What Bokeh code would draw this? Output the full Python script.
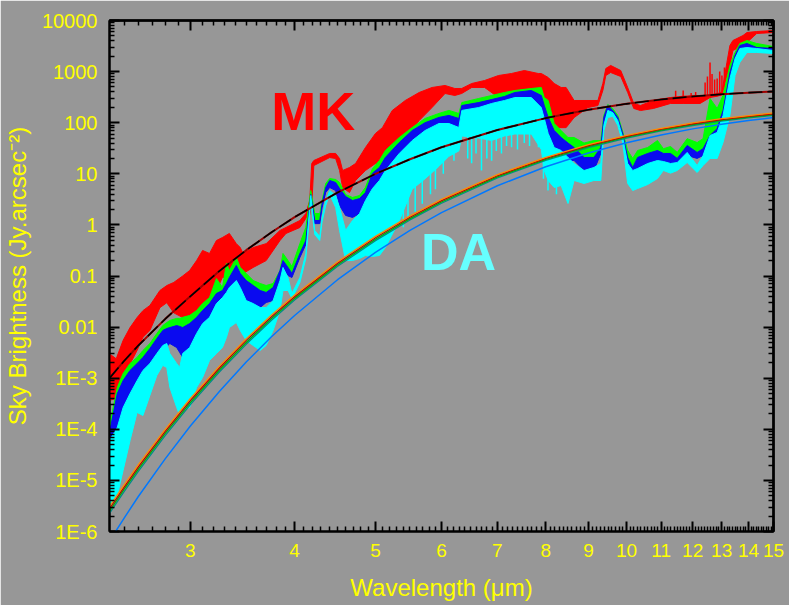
from bokeh.plotting import figure
from bokeh.models import LogAxis, FixedTicker, Range1d, Label
from bokeh.embed import file_html
from bokeh.resources import INLINE

# ---------------- data ----------------
# MK sky spectrum (red): wavelength (um), upper and lower envelope (Jy/arcsec^2)
red_wl = [2.40, 2.445, 2.492, 2.540, 2.590, 2.632, 2.683, 2.758, 2.811, 2.866, 2.937, 2.994, 3.052, 3.103,
          3.163, 3.224, 3.278, 3.341, 3.406, 3.443, 3.47, 3.568, 3.698, 3.842, 3.906, 4.059, 4.126, 4.171,
          4.194, 4.218, 4.407, 4.480, 4.529, 4.567, 4.655, 4.733, 4.864, 5.0, 5.097, 5.237, 5.429, 5.641,
          5.845, 6.059, 6.225, 6.344, 6.522, 6.758, 7.023, 7.279, 7.542, 7.837, 7.902, 8.055, 8.189, 8.347,
          8.462, 8.652, 8.989, 9.239, 9.366, 9.443, 9.57, 9.84, 10.03, 10.20, 10.39, 10.77, 11.29, 11.69,
          12.25, 12.42, 12.59, 12.84, 13.01, 13.19, 13.30, 13.41, 13.56, 13.79, 13.94, 14.32, 15.0]
red_hi = [3.0e-3, 2.4e-3, 5.5e-3, 9.8e-3, 0.0154, 0.021, 0.0265, 0.052, 0.065, 0.075, 0.10, 0.128, 0.20, 0.316,
          0.276, 0.495, 0.567, 0.68, 0.43, 0.36, 0.276, 0.36, 0.43, 0.78, 0.89, 1.22, 1.67, 3.0,
          15.9, 18.2, 25, 25, 19.9, 11.6, 13.3, 15.9, 32.7, 61.5, 80, 173, 272, 390,
          489, 535, 467, 467, 585, 670, 839, 918, 1050, 918, 918, 767, 585, 489,
          489, 272, 272, 272, 585, 1150, 1320, 1050, 489, 238, 217, 272, 311, 330,
          341, 330, 350, 370, 400, 1510, 3240, 4060, 4440, 5090, 5820, 6090, 6370]
red_lo = [3.7e-4, 4.0e-4, 9.0e-4, 1.9e-3, 3.5e-3, 6.3e-3, 8.6e-3, 0.024, 0.030, 0.019, 0.0154, 0.0154, 0.0185, 0.019,
          0.024, 0.052, 0.094, 0.094, 0.128, 0.128, 0.112, 0.147, 0.20, 0.495, 0.68, 0.89, 1.33, 1.6,
          2.4, 14.5, 20.8, 19.9, 11.6, 5.4, 4.3, 7.4, 11.6, 15.9, 11.6, 20.8, 51, 110,
          198, 373, 341, 373, 489, 489, 311, 272, 311, 198, 126, 126, 80, 80,
          80, 126, 198, 217, 427, 839, 960, 802, 390, 190, 173, 190, 238, 238,
          238, 272, 311, 330, 350, 839, 1320, 2590, 2830, 2830, 3710, 5570, 5820]
# narrow emission spikes of the MK spectrum: wavelength, peak, base
red_spike_wl = [11.45, 11.69, 11.95, 12.10, 12.42, 12.50, 12.59, 12.66, 12.75, 12.84, 12.93, 13.01, 13.10]
red_spike_top = [420, 427, 380, 400, 612, 800, 1510, 900, 700, 733, 1000, 839, 1200]
red_spike_bot = [250, 250, 250, 250, 300, 300, 300, 320, 320, 330, 340, 350, 380]

# Other sky spectra (green, blue, cyan) on a common wavelength grid
wl = [2.400, 2.452, 2.492, 2.540, 2.590, 2.632, 2.683, 2.735, 2.780, 2.811, 2.835, 2.889, 2.913, 2.937, 2.994,
      3.052, 3.103, 3.163, 3.224, 3.278, 3.314, 3.341, 3.406, 3.443, 3.500, 3.568, 3.638, 3.698, 3.770, 3.842,
      3.874, 3.928, 3.971, 4.059, 4.126, 4.183, 4.229, 4.288, 4.316, 4.359, 4.407, 4.480, 4.529, 4.605, 4.694,
      4.785, 4.864, 4.959, 5.055, 5.139, 5.340, 5.534, 5.734, 5.958, 6.124, 6.294, 6.346, 6.649, 6.890, 7.139,
      7.346, 7.689, 7.902, 7.968, 8.055, 8.189, 8.347, 8.507, 8.652, 8.892, 9.138, 9.314, 9.391, 9.495, 9.626,
      9.760, 9.893, 10.03, 10.17, 10.31, 10.60, 10.89, 11.07, 11.29, 11.50, 11.82, 12.15, 12.35, 12.59, 12.84,
      13.05, 13.30, 13.49, 13.67, 13.94, 14.32, 15.0]
green_hi = [1.18e-4, 6.6e-4, 1.24e-3, 1.94e-3, 2.55e-3, 3.49e-3, 4.77e-3, 7.5e-3, 0.0107, 0.0123, 0.0135, 0.0148,
            0.0148, 0.0155, 0.0169, 0.0211, 0.0289, 0.0379, 0.0894, 0.0596, 0.176, 0.128, 0.230, 0.147, 0.112,
            0.0816, 0.0713, 0.0652, 0.0713, 0.128, 0.276, 0.201, 0.154, 0.432, 0.889, 4.7, 1.67, 1.67, 3.0, 6.46,
            8.09, 7.74, 6.76, 3.93, 3.44, 3.76, 5.39, 12.7, 18.2, 28.6, 51.3, 80.5, 121, 152, 174, 152, 248, 298,
            341, 390, 427, 467, 489, 311, 272, 96.5, 70.3, 51.3, 51.3, 40.0, 44.8, 44.8, 139, 227, 190, 139, 67.3,
            28.6, 20.0, 28.6, 32.7, 44.8, 31.0, 34.2, 26.2, 48.7, 40.9, 48.7, 298, 190, 341, 1320, 2370, 3550,
            4060, 3550, 3100]
blue_hi = [8.7e-5, 5.0e-4, 9.0e-4, 1.42e-3, 1.94e-3, 2.55e-3, 3.81e-3, 5.98e-3, 8.58e-3, 9.39e-3, 9.8e-3, 0.0107,
           0.0103, 9.8e-3, 0.0117, 0.0155, 0.0211, 0.0289, 0.0455, 0.052, 0.0713, 0.0935, 0.161, 0.112, 0.0816,
           0.0652, 0.052, 0.0476, 0.0596, 0.128, 0.201, 0.147, 0.112, 0.276, 0.495, 3.93, 1.22, 1.22, 2.62, 5.39,
           7.4, 6.76, 5.15, 3.6, 3.0, 3.27, 4.3, 10.3, 13.3, 20.9, 40.9, 70.3, 100, 127, 139, 121, 217, 248,
           284, 326, 390, 427, 341, 217, 127, 70.3, 51.3, 40.0, 32.7, 20.9, 20.9, 32.7, 127, 217, 174, 127, 61.5,
           20.9, 13.3, 20.9, 25.0, 28.6, 25.0, 25.0, 20.0, 35.8, 26.2, 31.0, 56.2, 77.1, 174, 960, 2070, 3240,
           3550, 2960, 2830]
blue_lo = [1.14e-5, 8.3e-5, 1.70e-4, 2.67e-4, 5.0e-4, 7.87e-4, 1.24e-3, 2.22e-3, 3.49e-3, 4.16e-3, 4.77e-3, 3.98e-3,
           3.18e-3, 2.55e-3, 3.04e-3, 3.04e-3, 3.98e-3, 4.77e-3, 8.58e-3, 9.8e-3, 0.0135, 0.0185, 0.0379, 0.0211,
           0.0185, 0.0211, 0.0242, 0.0303, 0.0331, 0.0596, 0.128, 0.102, 0.0935, 0.230, 0.413, 3.0, 1.06, 1.06,
           2.19, 4.3, 5.39, 4.7, 2.39, 1.53, 1.40, 1.67, 1.06, 0.973, 1.22, 1.67, 5.39, 13.3, 32.7, 61.5, 70.3,
           44.8, 110, 127, 158, 181, 198, 198, 121, 88.2, 51.3, 20.9, 14.5, 18.2, 18.2, 11.6, 11.6, 25.0, 100,
           174, 139, 100, 48.7, 16.6, 10.6, 11.6, 13.3, 15.9, 15.9, 14.5, 15.9, 22.8, 20.0, 22.8, 31.0, 40.9,
           77.1, 390, 1320, 2370, 2830, 2590, 2370]
cyan_hi = [6.0e-5, 1.09e-4, 2.67e-4, 5.0e-4, 9.0e-4, 1.42e-3, 1.94e-3, 3.04e-3, 4.36e-3, 4.77e-3, 3.04e-3, 1.94e-3,
           1.62e-3, 3.04e-3, 3.98e-3, 7.5e-3, 0.0117, 0.0155, 0.0289, 0.0379, 0.0476, 0.0596, 0.0816, 0.0596,
           0.0331, 0.0289, 0.0242, 0.0242, 0.0331, 0.0816, 0.147, 0.0935, 0.0455, 0.0935, 0.276, 3.76, 0.777,
           0.594, 1.40, 3.0, 4.7, 3.76, 2.19, 0.777, 1.22, 1.67, 3.0, 5.15, 7.4, 11.6, 25.0, 44.8, 70.3, 96.5,
           96.5, 80.5, 174, 198, 238, 272, 311, 311, 198, 121, 61.5, 32.7, 28.6, 20.9, 15.9, 11.6, 13.3, 15.9,
           88.2, 174, 158, 110, 51.3, 15.9, 11.6, 12.7, 15.9, 18.2, 17.4, 15.9, 16.6, 26.2, 14.5, 22.8, 56.2,
           64.4, 139, 733, 1800, 2830, 2960, 2830, 2590]
cyan_lo = [2.95e-6, 5.07e-6, 1.57e-5, 6.0e-5, 2.14e-4, 1.86e-4, 4.59e-4, 1.13e-3, 1.78e-3, 1.62e-3, 6.58e-4, 2.67e-4,
           1.86e-4, 2.33e-4, 2.67e-4, 6.58e-4, 1.03e-3, 2.22e-3, 3.04e-3, 3.98e-3, 6.25e-3, 9.8e-3, 0.0123,
           8.58e-3, 5.47e-3, 4.36e-3, 3.49e-3, 4.36e-3, 8.58e-3, 0.0211, 0.052, 0.052, 0.0363, 0.0746, 0.220,
           3.0, 0.649, 0.495, 1.16, 2.39, 3.93, 2.19, 0.777, 0.201, 0.201, 0.220, 0.252, 0.241, 0.252, 0.361,
           1.2, 5.0, 8.0, 14.0, 22.0, 28.0, 55.0, 50.0, 45.0, 55.0, 60.0, 60.0, 30.0, 11.6, 7.4, 5.39, 5.9,
           2.62, 7.4, 6.46, 7.4, 7.4, 70.3, 127, 133, 88.2, 40.9, 6.46, 4.7, 5.15, 6.17, 8.09, 11.6, 10.3, 11.6,
           16.6, 10.6, 14.5, 20.0, 20.0, 40.9, 139, 839, 1510, 2370, 2370, 2260]
# deep, narrow absorption lines of the cyan spectrum: wavelength, top, bottom
cyan_spike_wl = [5.40, 5.47, 5.58, 5.69, 5.82, 5.90, 6.03, 6.21, 6.45, 6.52, 6.60, 6.70, 6.80, 6.89, 6.98,
                 7.08, 7.18, 7.28, 7.40, 7.54, 7.65, 7.84, 7.95, 8.05, 8.24]
cyan_spike_top = [20, 25, 35, 40, 50, 60, 70, 80, 150, 150, 160, 170, 180, 190, 200,
                  210, 220, 230, 240, 250, 250, 200, 100, 60, 30]
cyan_spike_bot = [0.9, 1.4, 1.8, 2.6, 4.0, 5.0, 10, 18, 20, 16, 25, 11.6, 20, 18, 28,
                  25, 35, 33, 30, 40, 35, 33, 8, 4.7, 4.0]

# Smooth thermal-emission curves
curve_wl = [2.4, 2.5, 2.6, 2.8, 3.0, 3.25, 3.5, 3.75, 4.0, 4.5, 5.0, 5.5, 6.0, 7.0, 8.0, 9.0, 10, 11, 12, 13, 14, 15]
mk_thermal = [1.0e-3, 2.2e-3, 4.4e-3, 0.0145, 0.040, 0.125, 0.32, 0.71, 1.42, 4.27, 9.95, 19.3, 33, 72, 123, 179,
              234, 284, 326, 360, 387, 407]
da_thermal_1 = [3.10e-6, 8.3e-6, 2.05e-5, 1.01e-4, 4.0e-4, 1.72e-3, 5.9e-3, 0.0170, 0.0425, 0.188, 0.597, 1.50,
                3.16, 9.64, 21.0, 37.2, 56.6, 77.8, 99.1, 120, 138, 155]
da_thermal_2 = [2.79e-6, 7.5e-6, 1.86e-5, 9.2e-5, 3.66e-4, 1.58e-3, 5.5e-3, 0.0157, 0.0394, 0.175, 0.560, 1.41,
                2.98, 9.16, 20.1, 35.6, 54.3, 74.8, 95.3, 115, 133, 149]
da_thermal_3 = [2.52e-6, 6.8e-6, 1.68e-5, 8.4e-5, 3.33e-4, 1.45e-3, 5.0e-3, 0.0146, 0.0365, 0.164, 0.525, 1.33,
                2.81, 8.71, 19.2, 34.0, 52.1, 71.9, 91.6, 111, 129, 144]
da_thermal_4 = [2.27e-6, 6.1e-6, 1.52e-5, 7.6e-5, 3.04e-4, 1.32e-3, 4.6e-3, 0.0135, 0.0338, 0.153, 0.492, 1.25,
                2.65, 8.28, 18.3, 32.6, 50.0, 69.2, 88.1, 107, 124, 139]
da_thermal_5 = [6.5e-7, 1.85e-6, 4.9e-6, 2.67e-5, 1.16e-4, 5.5e-4, 2.07e-3, 6.4e-3, 0.0169, 0.0836, 0.29, 0.78,
                1.74, 5.83, 13.7, 25.5, 40.5, 57.7, 75.7, 93.5, 110.5, 126]

# Axis ticks
x_tick_values = [3, 4, 5, 6, 7, 8, 9, 10, 11, 12, 13, 14, 15]
x_tick_labels = ["3", "4", "5", "6", "7", "8", "9", "10", "11", "12", "13", "14", "15"]
y_tick_values = [1e-6, 1e-5, 1e-4, 1e-3, 0.01, 0.1, 1, 10, 100, 1000, 10000]
y_tick_labels = ["1E-6", "1E-5", "1E-4", "1E-3", "0.01", "0.1", "1", "10", "100", "1000", "10000"]

# ---------------- styling ----------------
GRAY = "#979797"
YELLOW = "#FFFF00"
FONT = "Liberation Sans"

x_minor = [round(2.4 + 0.1 * i, 1) for i in range(1, 126)]
x_minor = [v for v in x_minor if abs(v - round(v)) > 1e-6 and v < 15]
y_minor = [m * 10.0 ** e for e in range(-6, 4) for m in range(2, 10)]

p = figure(width=789, height=605, x_axis_type="log", y_axis_type="log",
           x_range=Range1d(2.4, 15), y_range=Range1d(1e-6, 1e4),
           output_backend="svg", toolbar_location=None,
           min_border_left=106, min_border_right=16, min_border_top=20, min_border_bottom=74,
           background_fill_color=GRAY, border_fill_color=GRAY)
p.grid.visible = False
p.outline_line_color = "black"
p.outline_line_width = 2

xb = p.below[0]
yl = p.left[0]
xb.ticker = FixedTicker(ticks=x_tick_values, minor_ticks=x_minor)
yl.ticker = FixedTicker(ticks=y_tick_values, minor_ticks=y_minor)
xb.major_label_overrides = dict(zip(x_tick_values, x_tick_labels))
yl.major_label_overrides = dict(zip(y_tick_values, y_tick_labels))

# mirrored tick marks (no labels) on the top and right edges
for side, major_pos, minor_pos in (("above", x_tick_values, x_minor), ("right", y_tick_values, y_minor)):
    for pos, length in ((major_pos, 10), (minor_pos, 5)):
        ax = LogAxis(ticker=FixedTicker(ticks=[], minor_ticks=pos), major_label_standoff=0,
                     minor_tick_in=length, minor_tick_out=0, major_tick_in=0, major_tick_out=0,
                     axis_line_color="black", axis_line_width=2,
                     minor_tick_line_color="black",
                     minor_tick_line_width=2 if length == 10 else 1.5)
        p.add_layout(ax, side)

for ax in (xb, yl):
    ax.axis_line_color = "black"
    ax.axis_line_width = 2
    ax.major_tick_line_color = "black"
    ax.minor_tick_line_color = "black"
    ax.major_tick_line_width = 2
    ax.minor_tick_line_width = 1.5
    ax.major_tick_in = 10
    ax.major_tick_out = 0
    ax.minor_tick_in = 5
    ax.minor_tick_out = 0
    ax.major_label_text_color = YELLOW
    ax.major_label_text_font = FONT

xb.major_label_text_font_size = "19px"
yl.major_label_text_font_size = "20px"
xb.major_label_standoff = 12
yl.major_label_standoff = 12
xb.axis_label = "Wavelength (\u03bcm)"
yl.axis_label = "Sky Brightness (Jy.arcsec\u207b\u00b2)"
for ax in (xb, yl):
    ax.axis_label_text_color = YELLOW
    ax.axis_label_text_font = FONT
    ax.axis_label_text_font_size = "24px"
    ax.axis_label_text_font_style = "normal"
xb.axis_label_standoff = 14
yl.axis_label_standoff = 8

# ---------------- spectra ----------------
RED = "#FF0000"
GREEN = "#00FF00"
BLUE = "#0A0AF0"
CYAN = "#00FFFF"

p.varea(x=red_wl, y1=red_lo, y2=red_hi, fill_color=RED)
p.line(red_wl, red_hi, line_color=RED, line_width=1)
p.line(red_wl, red_lo, line_color=RED, line_width=1)
p.segment(x0=red_spike_wl, y0=red_spike_bot, x1=red_spike_wl, y1=red_spike_top, line_color=RED, line_width=1.5)

p.varea(x=wl, y1=blue_lo, y2=green_hi, fill_color=GREEN)
p.line(wl, green_hi, line_color=GREEN, line_width=1)

p.varea(x=wl, y1=blue_lo, y2=blue_hi, fill_color=BLUE)
p.line(wl, blue_hi, line_color=BLUE, line_width=1)
p.line(wl, blue_lo, line_color=BLUE, line_width=1)

p.varea(x=wl, y1=cyan_lo, y2=cyan_hi, fill_color=CYAN)
p.line(wl, cyan_hi, line_color=CYAN, line_width=1)
p.line(wl, cyan_lo, line_color=CYAN, line_width=1)
p.segment(x0=cyan_spike_wl, y0=cyan_spike_bot, x1=cyan_spike_wl, y1=cyan_spike_top, line_color=CYAN,
          line_width=1.5)

# ---------------- thermal curves ----------------
p.line(curve_wl, da_thermal_5, line_color="#0078FF", line_width=1.5)
p.line(curve_wl, da_thermal_4, line_color="#008C8C", line_width=1.3)
p.line(curve_wl, da_thermal_3, line_color="#00B000", line_width=1.3)
p.line(curve_wl, da_thermal_2, line_color="#C00000", line_width=1.3)
p.line(curve_wl, da_thermal_1, line_color="#FF8C00", line_width=1.3)
p.line(curve_wl, mk_thermal, line_color="#A00000", line_width=2)
p.line(curve_wl, mk_thermal, line_color="black", line_width=1.6, line_dash="14 5")

# ---------------- site labels ----------------
p.add_layout(Label(x=3.75, y=166, text="MK", text_color="#FF0000", text_font=FONT,
                   text_font_style="bold", text_font_size="54px", text_baseline="alphabetic"))
p.add_layout(Label(x=5.67, y=0.30, text="DA", text_color="#66FFFF", text_font=FONT,
                   text_font_style="bold", text_font_size="52px", text_baseline="alphabetic"))

open("out.html", "w").write(file_html(p, INLINE))
